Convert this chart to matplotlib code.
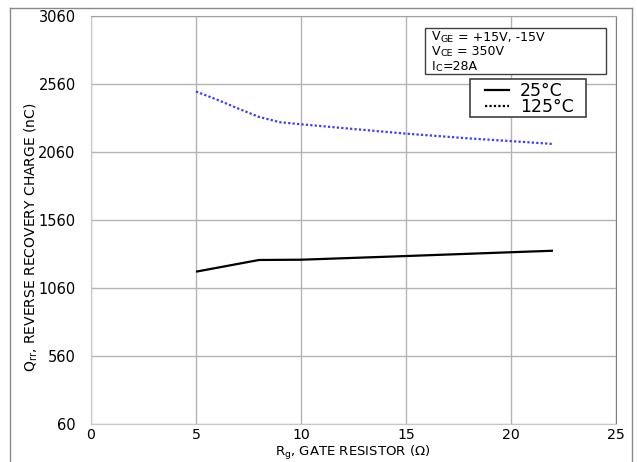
import matplotlib
matplotlib.use("Agg")
import matplotlib.pyplot as plt
from matplotlib.lines import Line2D
from matplotlib.patches import Rectangle

plt.rcParams['font.family'] = ['DejaVu Sans']

# Data
rg_25 = [5, 8, 10, 15, 20, 22]
qrr_25 = [1180, 1266, 1268, 1295, 1323, 1334]
rg_125 = [5, 6, 7, 8, 9, 10, 12, 15, 18, 20, 22]
qrr_125 = [2505, 2445, 2380, 2318, 2279, 2264, 2236, 2195, 2160, 2140, 2119]
xticks = [0, 5, 10, 15, 20, 25]
yticks = [60, 560, 1060, 1560, 2060, 2560, 3060]
legend_labels = ["25°C", "125°C"]

W, H = 637, 462
fig = plt.figure(figsize=(W / 100, H / 100), dpi=100)
ax = fig.add_axes([91 / W, 1 - 424 / H, (616 - 91) / W, (424 - 16) / H])
tf = fig.transFigure

l25, = ax.plot(rg_25, qrr_25, color='black', lw=1.6, solid_capstyle='butt')
l125, = ax.plot(rg_125, qrr_125, color='#3a3aff', lw=1.6, linestyle=(0, (1, 1)))

ax.set_xlim(0, 25)
ax.set_ylim(60, 3060)
ax.set_xticks(xticks)
ax.set_yticks(yticks)
ax.grid(True, color='#b4b4b4', lw=1)
ax.set_axisbelow(True)
ax.tick_params(length=0, labelsize=10.5)
ax.tick_params(axis='y', pad=11)
ax.tick_params(axis='x', pad=3, labelsize=10.2)
for s in ['left', 'bottom']:
    ax.spines[s].set_color('#c8c8c8')
ax.spines['top'].set_color('#a0a0a0')
ax.spines['right'].set_color('#808080')

fig.text(31 / W, 1 - 237 / H, r"Q$_{\mathregular{rr}}$, REVERSE RECOVERY CHARGE (nC)",
         rotation=90, ha='center', va='center', fontsize=10)
fig.text(353 / W, 0.0, r"R$_{\mathregular{g}}$, GATE RESISTOR (Ω)",
         ha='center', va='bottom', fontsize=9.5)

# outer frame
fc = '#8a8a8a'
fig.add_artist(Line2D([10 / W, 10 / W], [0, 1 - 8 / H], color=fc, lw=1, transform=tf))
fig.add_artist(Line2D([10 / W, 632 / W], [1 - 8 / H, 1 - 8 / H], color=fc, lw=1, transform=tf))
fig.add_artist(Line2D([632 / W, 632 / W], [0, 1 - 8 / H], color=fc, lw=1, transform=tf))

# condition box
ax.add_patch(Rectangle((425 / W, 1 - 74 / H), (606 - 425) / W, (74 - 28) / H,
                       transform=tf, facecolor='white', edgecolor='#404040', lw=1,
                       zorder=5, clip_on=False))
fs_big, fs_small = 9, 6.8
lines = [("V", "GE", " = +15V, -15V"), ("V", "CE", " = 350V"), ("I", "C", "=28A")]
baselines = [40.5, 55.2, 69.9]
for (a, b, c), yb in zip(lines, baselines):
    t1 = ax.text(432 / W, 1 - yb / H, a, fontsize=fs_big, va='baseline', transform=tf,
                 zorder=6, clip_on=False)
    t2 = ax.annotate(b, xy=(1, 0), xycoords=t1, va='bottom', ha='left', fontsize=fs_small,
                     annotation_clip=False, zorder=6)
    ax.annotate(c, xy=(1, 0), xycoords=t2, va='bottom', ha='left', fontsize=fs_big,
                annotation_clip=False, zorder=6)

# legend box
ax.add_patch(Rectangle((470 / W, 1 - 117 / H), (586 - 470) / W, (117 - 79) / H,
                       transform=tf, facecolor='white', edgecolor='#404040', lw=1.2,
                       zorder=5, clip_on=False))
handles = [Line2D([], [], color='black', lw=1.6),
           Line2D([], [], color='black', lw=1.6, linestyle=(0, (1, 1)))]
leg = fig.legend(handles, legend_labels, loc='upper left',
                 bbox_to_anchor=(485 / W, 1 - 82 / H), bbox_transform=tf,
                 fontsize=12.5, frameon=False,
                 handlelength=1.4, handletextpad=0.6, labelspacing=-0.1, borderpad=0,
                 borderaxespad=0)
leg.set_zorder(7)

fig.savefig("out.png", dpi=100)
